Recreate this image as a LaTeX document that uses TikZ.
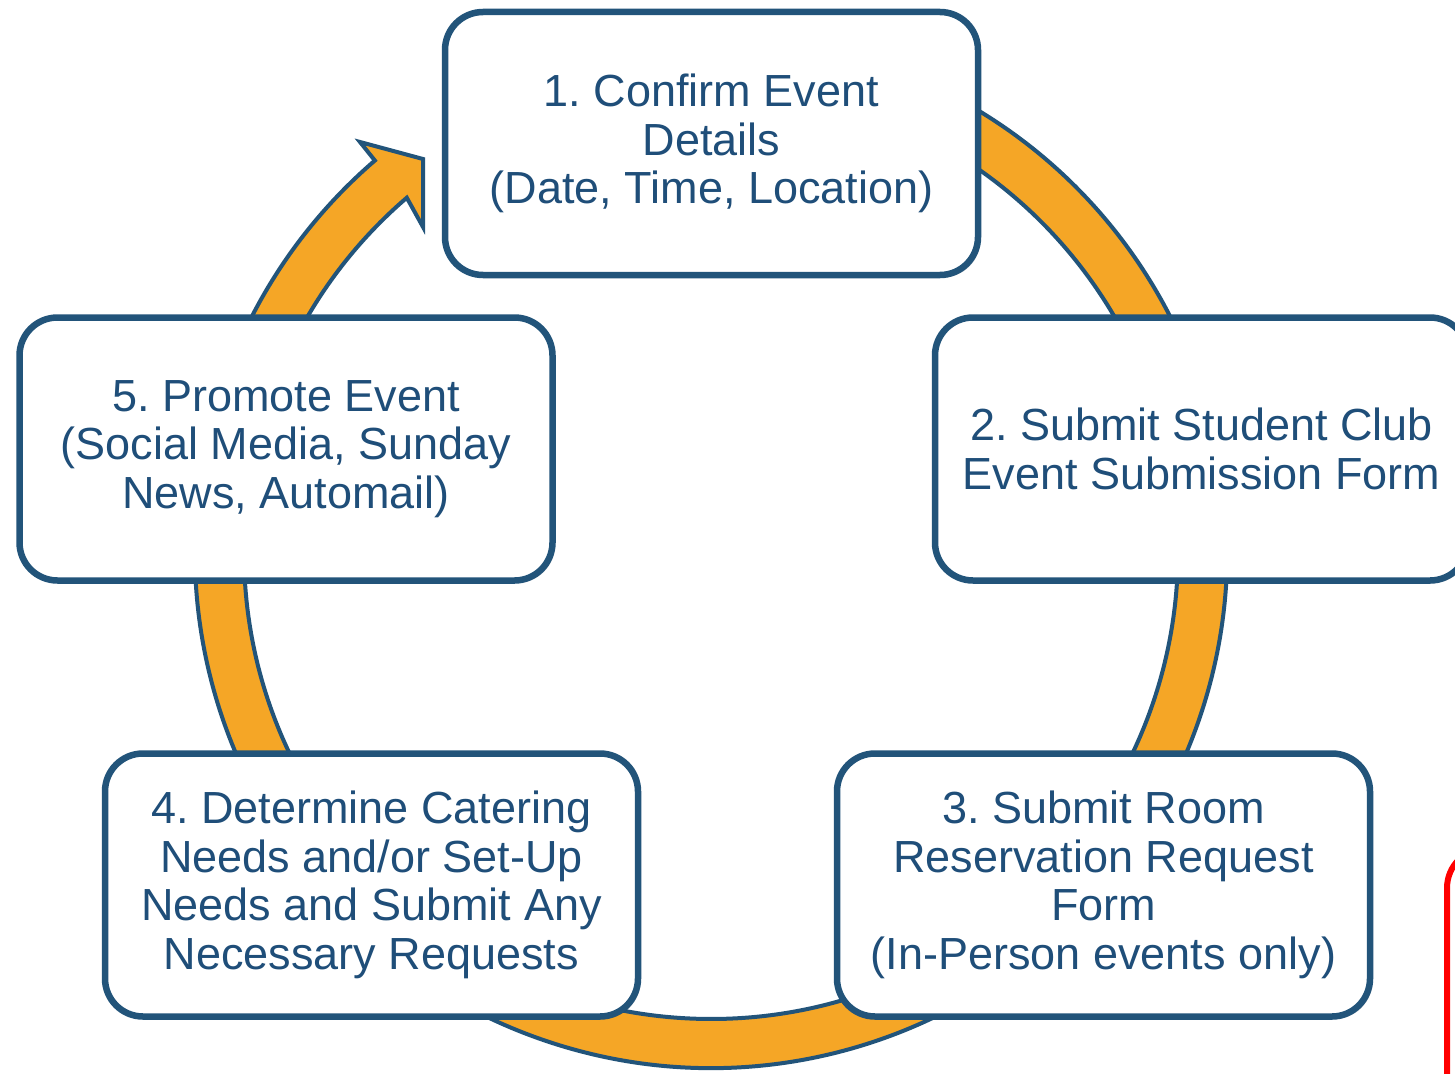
\documentclass[tikz,border=0pt]{standalone}
\usepackage{fontspec}
\setmainfont{Liberation Sans}
\usetikzlibrary{shadows,calc}
\definecolor{ringorange}{RGB}{245,166,38}
\definecolor{boxblue}{RGB}{34,84,122}
\definecolor{textblue}{RGB}{31,78,121}
\frenchspacing
\begin{document}
\begin{tikzpicture}[x=1pt,y=-1pt,
  stepbox/.style={draw=boxblue, line width=6.5pt, fill=white, rounded corners=38pt,
    minimum width=533pt, minimum height=263pt, inner sep=0pt, align=center,
    text=textblue, font=\fontsize{45}{48.5}\selectfont,
    drop shadow={shadow xshift=2.5pt, shadow yshift=-2.5pt, opacity=0.18, fill=black}},
  ringline/.style={draw=boxblue, line width=4pt, fill=ringorange, line join=miter}]
\useasboundingbox (0,0) rectangle (1455,1073);
\clip (0,0) rectangle (1455,1073);
\fill[white] (0,0) rectangle (1455,1073);
\coordinate (c) at (711,552);
% ring with arrowhead
\draw[ringline] ([shift={(-70:516)}]c) arc[start angle=-70, end angle=229.35, radius=516]
  -- (360,142) -- (423,159) -- (423,227)
  -- ([shift={(229.35:467)}]c) arc[start angle=229.35, end angle=-70, radius=467] -- cycle;
% boxes
\node[stepbox] (b1) at (711.5,143.5) {1. Confirm Event\\Details\\(Date, Time, Location)};
\node[stepbox] (b2) at (1201.5,449) {2. Submit Student Club\\Event Submission Form};
\node[stepbox] (b3) at (1103.5,885) {3. Submit Room\\Reservation Request\\Form\\(In-Person events only)};
\node[stepbox] (b4) at (371.5,885) {4. Determine Catering\\Needs and/or Set-Up\\Needs and Submit Any\\Necessary Requests};
\node[stepbox] (b5) at (286,449) {5. Promote Event\\(Social Media, Sunday\\News, Automail)};
% red frame at the right edge
\draw[red, line width=6pt, rounded corners=40pt] (1447,848) rectangle (1620,1220);
\end{tikzpicture}
\end{document}
